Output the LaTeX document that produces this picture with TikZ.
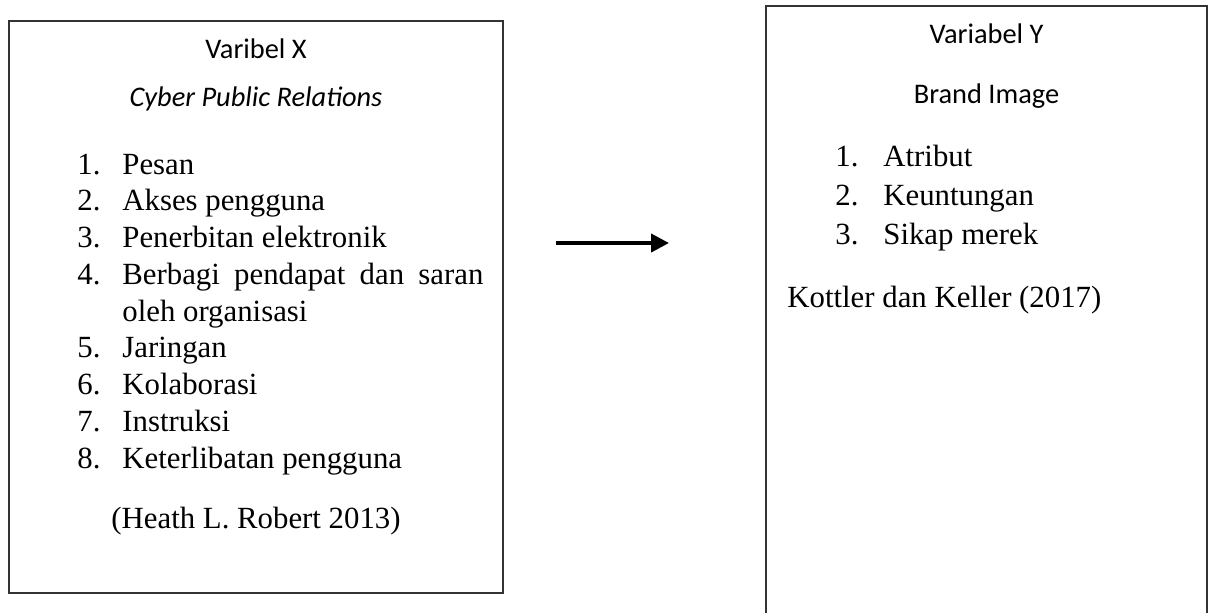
\documentclass[tikz,border=0pt]{standalone}
\usepackage{fontspec}
\setmainfont{Liberation Serif}
\newfontfamily\calibri{Carlito}
\usetikzlibrary{positioning}
\usetikzlibrary{arrows.meta,calc}

\begin{document}
\begin{tikzpicture} [
    x=0.5pt, y=-0.5pt,
    frame/.style = { rectangle, draw=black!80, line width=0.6pt, inner sep=0pt },
    head/.style  = { font=\calibri\fontsize{14.2}{17}\selectfont,
                     anchor=base, inner sep=0pt },
    item/.style  = { font=\fontsize{15.4}{18}\selectfont,
                     anchor=base west, inner sep=0pt },
    src/.style   = { font=\fontsize{15.4}{18}\selectfont,
                     anchor=base, inner sep=0pt },
    line/.style  = { draw, line width=2pt, -{Triangle[length=9pt,width=9pt]} },
  ]
  \useasboundingbox (0,0) rectangle (1215,612);

  % boxes
  \node (boxX) [frame, minimum width=247pt, minimum height=286pt] at (256,307) {};
  \node (boxY) [frame, minimum width=220.5pt, minimum height=310pt] at (986.5,316) {};

  % left box
  \node (headX) [head] at (256,58) {Varibel X};
  \node (nameX) [head] at (256,106) {\itshape Cyber Public Relations};
  \node (n1) [item] at (77,174)    {1.};
  \node (t1) [item] at (122,174)   {Pesan};
  \node (n2) [item] at (77,210.75) {2.};
  \node (t2) [item] at (122,210.75) {Akses pengguna};
  \node (n3) [item] at (77,247.5)  {3.};
  \node (t3) [item] at (122,247.5) {Penerbitan elektronik};
  \node (n4) [item] at (77,284.25) {4.};
  \node (t4) [item] at (122,284.25) {\makebox[180.5pt][s]{Berbagi pendapat dan saran}};
  \node (t4b) [item] at (122,321) {oleh organisasi};
  \node (n5) [item] at (77,357.75) {5.};
  \node (t5) [item] at (122,357.75) {Jaringan};
  \node (n6) [item] at (77,394.5)  {6.};
  \node (t6) [item] at (122,394.5) {Kolaborasi};
  \node (n7) [item] at (77,431.25) {7.};
  \node (t7) [item] at (122,431.25) {Instruksi};
  \node (n8) [item] at (77,468)    {8.};
  \node (t8) [item] at (122,468)   {Keterlibatan pengguna};
  \node (srcX) [src] at (256,528) {(Heath L. Robert 2013)};

  % right box
  \node (headY) [head] at (986.5,43) {Variabel Y};
  \node (nameY) [head] at (986.5,103) {Brand Image};
  \node (m1) [item] at (835,166) {1.};
  \node (s1) [item] at (883,166) {Atribut};
  \node (m2) [item] at (835,205) {2.};
  \node (s2) [item] at (883,205) {Keuntungan};
  \node (m3) [item] at (835,244) {3.};
  \node (s3) [item] at (883,244) {Sikap merek};
  \node (srcY) [item] at (787,307) {Kottler dan Keller (2017)};

  % arrow
  \coordinate (arrS) at (556,243);
  \coordinate (arrE) at (669,243);
  \path [line] (arrS) -- (arrE);

\end{tikzpicture}
\end{document}
